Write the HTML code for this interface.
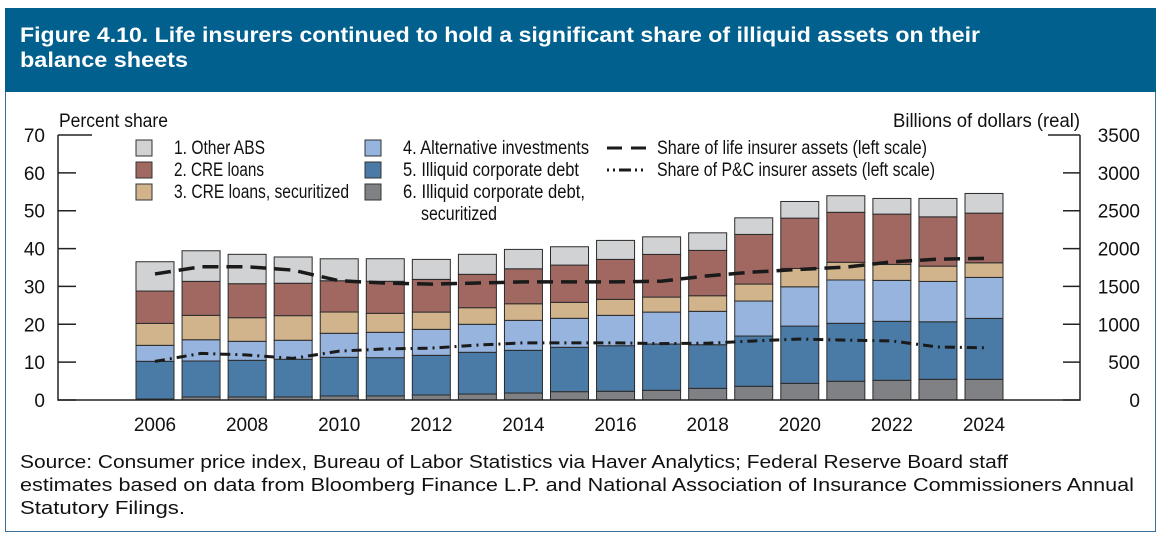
<!DOCTYPE html>
<html><head><meta charset="utf-8"><style>
body{margin:0;width:1163px;height:538px;background:#fff;overflow:hidden;font-family:"Liberation Sans",sans-serif}
#frame{position:absolute;left:5px;top:8px;width:1151px;height:524px;border:1px solid #3a6f95;box-sizing:border-box}
#hdr{position:absolute;left:5px;top:8px;width:1151px;height:84px;background:#02608f}
</style></head><body>
<div id="frame"></div>
<div id="hdr"></div>
<svg id="chart" width="1163" height="538" style="position:absolute;left:0;top:0">
<text x="20" y="42" font-size="21" font-weight="bold" fill="#fff" textLength="960" lengthAdjust="spacingAndGlyphs">Figure 4.10. Life insurers continued to hold a significant share of illiquid assets on their</text>
<text x="20" y="67" font-size="21" font-weight="bold" fill="#fff" textLength="168" lengthAdjust="spacingAndGlyphs">balance sheets</text>
<text x="20" y="468" font-size="18.5" fill="#111" textLength="988" lengthAdjust="spacingAndGlyphs">Source: Consumer price index, Bureau of Labor Statistics via Haver Analytics; Federal Reserve Board staff</text>
<text x="20" y="491" font-size="18.5" fill="#111" textLength="1114" lengthAdjust="spacingAndGlyphs">estimates based on data from Bloomberg Finance L.P. and National Association of Insurance Commissioners Annual</text>
<text x="20" y="514" font-size="18.5" fill="#111" textLength="165" lengthAdjust="spacingAndGlyphs">Statutory Filings.</text>
</svg>
<script>
const years=[2006,2007,2008,2009,2010,2011,2012,2013,2014,2015,2016,2017,2018,2019,2020,2021,2022,2023,2024];
const otherABS=[387,404,388,347,290,298,264,264,256,242,251,232,232,219,220,219,207,243,260];
const creLoans=[427,449,449,428,413,423,432,441,462,492,528,564,599,656,664,660,664,651,656];
const creSec=[290,322,312,325,281,251,228,219,219,211,211,198,206,224,243,234,211,202,193];
const altInv=[211,281,251,251,317,335,343,370,396,383,401,422,441,462,519,572,541,533,541];
const illCorp=[498,475,484,498,511,506,524,551,564,586,602,611,576,664,756,766,779,760,805];
const illCorpSec=[13,40,40,40,53,53,66,79,92,110,115,128,154,181,220,247,260,273,273];
const lifeShare=[33.3,35.2,35.2,34.3,31.5,30.9,30.6,30.9,31.2,31.2,31.2,31.4,32.8,33.8,34.5,35.1,36.5,37.2,37.4];
const pcShare=[10.2,12.3,11.9,11.0,12.9,13.5,13.7,14.5,15.1,15.1,15.1,14.9,15.0,15.6,16.1,15.8,15.6,14.0,13.8];
const leftTicks=[0,10,20,30,40,50,60,70];
const rightTicks=[0,500,1000,1500,2000,2500,3000,3500];
const xLabels=[2006,2008,2010,2012,2014,2016,2018,2020,2022,2024];

const NS="http://www.w3.org/2000/svg";
const svg=document.getElementById('chart');
const X0=58,X1=1080,Y0=400,Y1=135;
const xs=y=>155+(y-2006)*(984-155)/18;
const yl=v=>Y0-(v/70)*(Y0-Y1);
const yr=v=>Y0-(v/3500)*(Y0-Y1);
function el(t,a,p){const e=document.createElementNS(NS,t);for(const k in a)e.setAttribute(k,a[k]);(p||svg).appendChild(e);return e;}
function txt(x,y,s,size,anchor,len){const a={x:x,y:y,'font-size':size,'text-anchor':anchor||'start',fill:'#111'};if(len){a.textLength=len;a.lengthAdjust='spacingAndGlyphs';}const t=el('text',a);t.textContent=s;return t;}

const series=[illCorpSec,illCorp,altInv,creSec,creLoans,otherABS];
const colors=['#808185','#4a7ba7','#96b4dd','#d2b48c','#a06861','#d1d2d4'];
const snames=['illiquid-corporate-debt-securitized','illiquid-corporate-debt','alternative-investments','cre-loans-securitized','cre-loans','other-abs'];
years.forEach((yr_,i)=>{
  let cum=0;
  series.forEach((s,k)=>{
    const top=yr(cum+s[i]),bot=yr(cum);
    const r=el('rect',{x:xs(yr_)-19,y:top,width:38,height:bot-top,fill:colors[k],stroke:'#2b2b2b','stroke-width':1});
    
    
    cum+=s[i];
  });
});
const ax=el('path',{d:`M${X0},${Y1}V${Y0}H${X1}V${Y1}`,fill:'none',stroke:'#222','stroke-width':1.5});


leftTicks.forEach(v=>{
  el('line',{x1:X0,x2:v===70?92:76,y1:yl(v),y2:yl(v),stroke:'#222','stroke-width':1.5});
  const t=txt(45,yl(v)+7,String(v),19,'end');
  
  
});
rightTicks.forEach(v=>{
  el('line',{x1:v===3500?1048:1063,x2:X1,y1:yr(v),y2:yr(v),stroke:'#222','stroke-width':1.5});
  const t=txt(1140,yr(v)+7,String(v),19,'end');
  
  
});
xLabels.forEach(v=>{
  const t=txt(xs(v),431,String(v),19,'middle');
  
  
});
let t=txt(59,127,'Percent share',19,'start',109);


t=txt(893,127,'Billions of dollars (real)',19,'start',187);


const lp=el('path',{d:lifeShare.map((v,i)=>(i?'L':'M')+xs(years[i])+','+yl(v)).join(''),fill:'none',stroke:'#1a1a1a','stroke-width':3.5,'stroke-dasharray':'16,8'});


const pp=el('path',{d:pcShare.map((v,i)=>(i?'L':'M')+xs(years[i])+','+yl(v)).join(''),fill:'none',stroke:'#1a1a1a','stroke-width':3,'stroke-dasharray':'10,5,2,5'});


const leg=[['1. Other ABS',136,148,5,91],['2. CRE loans',136,170,4,90],['3. CRE loans, securitized',136,192,3,175],['4. Alternative investments',365,148,2,186],['5. Illiquid corporate debt',365,170,1,176],['6. Illiquid corporate debt,',365,192,0,182]];
leg.forEach(l=>{
  const r=el('rect',{x:l[1],y:l[2]-8,width:16,height:16,fill:colors[l[3]],stroke:'#333','stroke-width':1});
  
  
  const tt=txt(l[1]+38,l[2]+6,l[0],19,'start',l[4]);
  
  
});
t=txt(421,220,'securitized',19,'start',76);


el('line',{x1:607,x2:646,y1:148,y2:148,stroke:'#1a1a1a','stroke-width':3,'stroke-dasharray':'15,9'});
el('line',{x1:607,x2:646,y1:170,y2:170,stroke:'#1a1a1a','stroke-width':3,'stroke-dasharray':'2,4,2,4,12,4'});
t=txt(657,154,'Share of life insurer assets (left scale)',19,'start',270);


t=txt(657,176,'Share of P&C insurer assets (left scale)',19,'start',278);


</script>
</body></html>
